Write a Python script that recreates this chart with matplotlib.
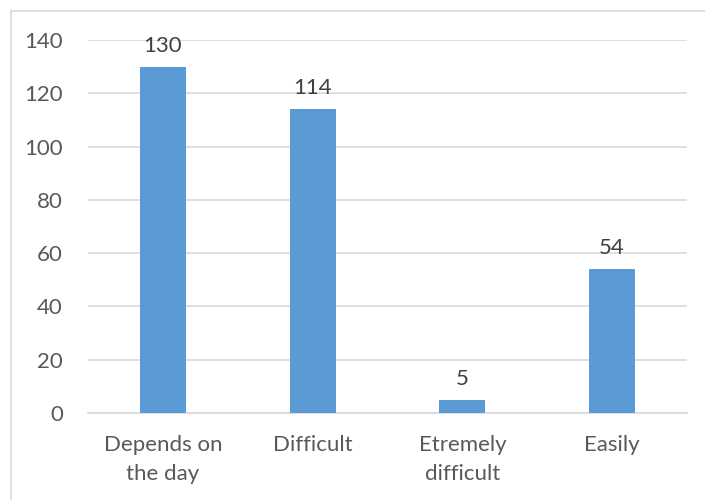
import matplotlib
matplotlib.use("Agg")
import matplotlib.pyplot as plt
from matplotlib.lines import Line2D

categories = ["Depends on\nthe day", "Difficult", "Etremely\ndifficult", "Easily"]
counts = [130, 114, 5, 54]
y_ticks = [0, 20, 40, 60, 80, 100, 120, 140]

plt.rcParams["font.family"] = ["Lato", "DejaVu Sans"]

fig = plt.figure(figsize=(7.05, 5.0), dpi=100)
ax = fig.add_axes([88 / 705, 1 - 413 / 500, 599 / 705, 373 / 500])

x = range(len(categories))
bars = ax.bar(x, counts, width=0.307, color="#5B9BD5", zorder=3)

for xi, v in zip(x, counts):
    ax.annotate(str(v), (xi, v), xytext=(0, 8), textcoords="offset points",
                ha="center", va="bottom", fontsize=16, color="#404040")

ax.set_xlim(-0.5, len(categories) - 0.5)
ax.set_ylim(0, 140)
ax.set_yticks(y_ticks)
ax.set_xticks(list(x))
ax.set_xticklabels(categories, linespacing=1.55)
ax.tick_params(axis="both", length=0, labelsize=16, labelcolor="#595959")
ax.tick_params(axis="y", pad=18)
ax.tick_params(axis="x", pad=16)
ax.grid(axis="y", color="#D9D9D9", linewidth=1.2, zorder=0)
for s in ["top", "right", "left"]:
    ax.spines[s].set_visible(False)
ax.spines["bottom"].set_color("#D9D9D9")
ax.spines["bottom"].set_linewidth(1.2)

# chart frame: top and left edges
fig.add_artist(Line2D([11 / 705, 11 / 705], [0, 1 - 11 / 500], transform=fig.transFigure,
                      color="#D9D9D9", linewidth=1.2))
fig.add_artist(Line2D([11 / 705, 1], [1 - 11 / 500, 1 - 11 / 500], transform=fig.transFigure,
                      color="#D9D9D9", linewidth=1.2))

fig.savefig("out.png", dpi=100)
